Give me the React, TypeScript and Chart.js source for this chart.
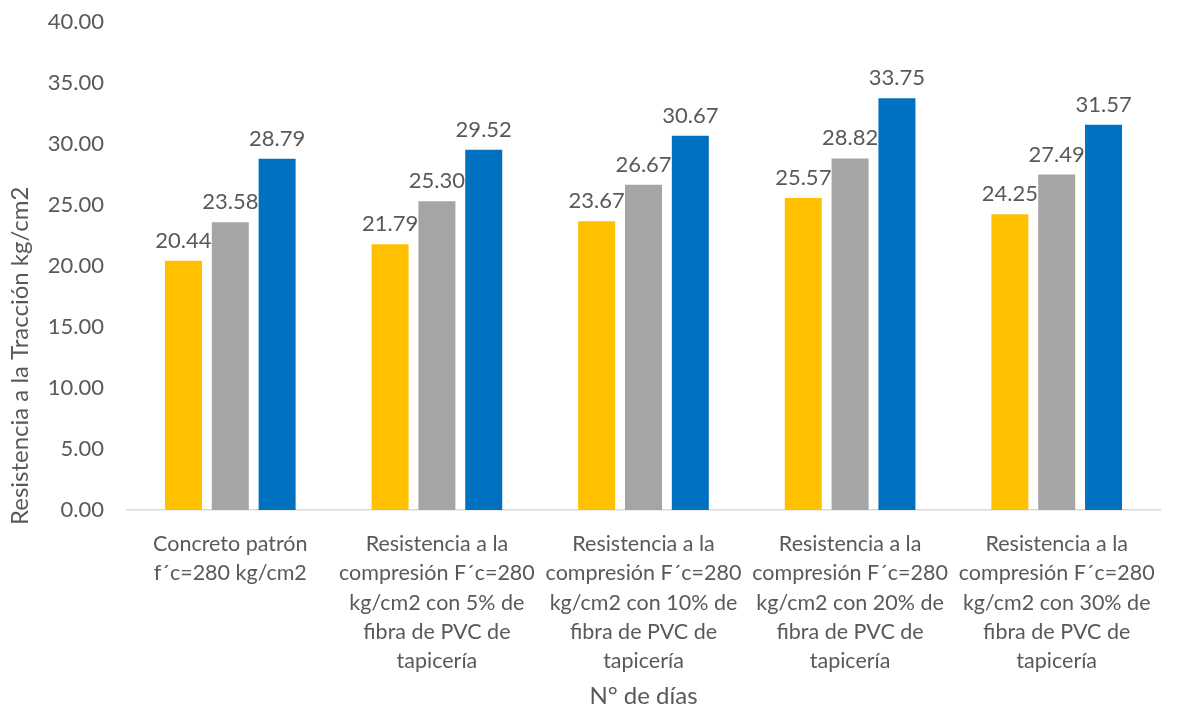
import React, { useEffect, useRef } from "react";
import { Chart, registerables } from "chart.js";

Chart.register(...registerables);

const categories: string[][] = [
  ["Concreto patrón", "f´c=280 kg/cm2"],
  ["Resistencia a la", "compresión F´c=280", "kg/cm2 con 5% de", "fibra de PVC de", "tapicería"],
  ["Resistencia a la", "compresión F´c=280", "kg/cm2 con 10% de", "fibra de PVC de", "tapicería"],
  ["Resistencia a la", "compresión F´c=280", "kg/cm2 con 20% de", "fibra de PVC de", "tapicería"],
  ["Resistencia a la", "compresión F´c=280", "kg/cm2 con 30% de", "fibra de PVC de", "tapicería"],
];

const seriesNames = ["7 días", "14 días", "28 días"];
const series1 = [20.44, 21.79, 23.67, 25.57, 24.25];
const series2 = [23.58, 25.3, 26.67, 28.82, 27.49];
const series3 = [28.79, 29.52, 30.67, 33.75, 31.57];
const colors = ["#FFC000", "#A5A5A5", "#0070C0"];

const yTitle = "Resistencia a la Tracción kg/cm2";
const xTitle = "N° de días";

const FONT = "Lato, 'Open Sans', sans-serif";
const TEXT = "#595959";

const dataLabels = {
  id: "dataLabels",
  afterDatasetsDraw(chart: any) {
    const ctx = chart.ctx;
    ctx.save();
    ctx.font = `22px ${FONT}`;
    ctx.fillStyle = TEXT;
    ctx.textAlign = "center";
    ctx.textBaseline = "bottom";
    chart.data.datasets.forEach((ds: any, i: number) => {
      const meta = chart.getDatasetMeta(i);
      meta.data.forEach((bar: any, j: number) => {
        ctx.fillText(Number(ds.data[j]).toFixed(2), bar.x, bar.y - 9);
      });
    });
    ctx.restore();
  },
};

const yTitlePlugin = {
  id: "yTitlePlugin",
  afterDraw(chart: any) {
    const ctx = chart.ctx;
    const yScale = chart.scales.y;
    ctx.save();
    ctx.font = `24px ${FONT}`;
    ctx.fillStyle = TEXT;
    ctx.textAlign = "left";
    ctx.textBaseline = "middle";
    ctx.translate(yScale.left + 15, yScale.bottom + 15);
    ctx.rotate(-Math.PI / 2);
    ctx.fillText(yTitle, 0, 0);
    ctx.restore();
  },
};

export default function App() {
  const ref = useRef<HTMLCanvasElement | null>(null);
  useEffect(() => {
    document.body.style.margin = "0";
    const chart = new Chart(ref.current!, {
      type: "bar",
      data: {
        labels: categories,
        datasets: [series1, series2, series3].map((d, i) => ({
          label: seriesNames[i],
          data: d,
          backgroundColor: colors[i],
          borderWidth: 0,
          barPercentage: 0.79,
          categoryPercentage: 0.68,
        })),
      },
      options: {
        animation: false,
        responsive: true,
        maintainAspectRatio: false,
        layout: { padding: { top: 22, right: 24, bottom: 0, left: 5 } },
        plugins: {
          legend: { display: false },
          tooltip: { enabled: false },
        },
        scales: {
          x: {
            grid: { display: false, drawTicks: false },
            border: { display: true, color: "#D9D9D9", width: 1.5 },
            afterFit: (s: any) => {
              s.height = 198;
            },
            ticks: {
              color: TEXT,
              font: { family: FONT, size: 21.5, lineHeight: 1.35 },
              padding: 20,
              maxRotation: 0,
              autoSkip: false,
            },
            title: {
              display: true,
              text: xTitle,
              color: TEXT,
              font: { family: FONT, size: 24 },
              padding: { top: 0, bottom: -3 },
            },
          },
          y: {
            min: 0,
            max: 40,
            grid: { display: false, drawTicks: false },
            border: { display: false },
            afterFit: (s: any) => {
              s.width = 122;
              s.paddingTop = 0;
              s.paddingBottom = 0;
            },
            ticks: {
              stepSize: 5,
              color: TEXT,
              font: { family: FONT, size: 22 },
              padding: 23,
              callback: (v: any) => Number(v).toFixed(2),
            },
            title: { display: false },
          },
        },
      },
      plugins: [dataLabels, yTitlePlugin],
    });
    return () => chart.destroy();
  }, []);
  return (
    <div style={{ width: 1184, height: 708, position: "relative", background: "#fff" }}>
      <canvas ref={ref} />
    </div>
  );
}
